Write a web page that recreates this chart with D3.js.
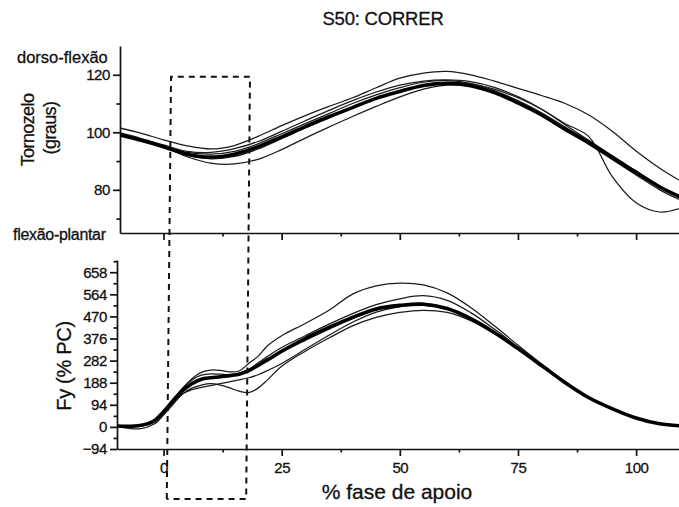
<!DOCTYPE html>
<html>
<head>
<meta charset="utf-8">
<script src="https://cdn.jsdelivr.net/npm/d3@7"></script>
<style>
  html, body { margin: 0; padding: 0; background: #fff; }
  svg { display: block; font-family: "Liberation Sans", Arial, sans-serif; }
  .axis path, .axis line { stroke: #111; stroke-width: 1.7; }
  .axis text { font-size: 15px; fill: #111; stroke: #111; stroke-width: 0.3; letter-spacing: -0.4px; }
  .lbl { fill: #111; stroke: #111; stroke-width: 0.3; }
</style>
</head>
<body>
<svg id="chart" width="679" height="507"></svg>
<script>
// Percent of stance phase at which each trial was sampled
const anklePct = [-10, -5, 0, 5, 10, 15, 20, 25, 30, 35, 40, 45, 50, 55, 60, 65, 70, 75, 80, 85, 90, 95, 100, 105, 110];
const forcePct = [-10, -5, -2, 0, 2, 4, 6, 8, 10, 12, 14, 16, 18, 20, 22, 25, 30, 35, 40, 45, 50, 55, 60, 65, 70, 75, 80, 85, 90, 95, 100, 105, 110];

// Ankle angle (degrees): mean curve and individual trials
const ankleMean = [99.4, 97.3, 95.0, 92.4, 91.4, 92.4, 95.0, 98.4, 102.0, 105.4, 108.6, 111.8, 114.2, 116.3, 117.0, 116.2, 113.8, 110.2, 106.0, 101.0, 96.4, 91.2, 86.0, 81.0, 77.0];
const ankleTrial1 = [101.8, 99.8, 97.4, 95.3, 94.2, 95.4, 98.6, 102.3, 105.8, 109.0, 112.0, 115.5, 118.8, 120.6, 121.2, 120.0, 117.8, 115.3, 112.8, 110.0, 106.0, 100.3, 93.5, 87.5, 82.5];
const ankleTrial2 = [99.6, 97.5, 95.0, 92.0, 90.8, 91.6, 94.2, 97.8, 101.5, 105.0, 108.5, 111.8, 114.5, 116.5, 117.3, 116.8, 115.0, 112.0, 108.0, 103.0, 98.5, 84.5, 75.5, 72.3, 74.0];
const ankleTrial3 = [99.8, 97.6, 95.0, 91.5, 89.3, 89.0, 90.6, 94.0, 98.0, 101.8, 105.5, 109.0, 112.3, 115.0, 116.4, 116.0, 114.0, 110.5, 106.2, 101.0, 95.8, 90.5, 85.2, 80.0, 76.0];
const ankleTrial4 = [99.2, 97.2, 95.2, 93.0, 92.4, 93.4, 96.0, 99.5, 103.0, 106.5, 110.0, 113.0, 115.5, 117.4, 118.0, 117.0, 114.5, 111.0, 106.8, 101.8, 96.8, 91.6, 86.4, 81.2, 77.0];
const ankleTrial5 = [100.2, 98.0, 95.6, 93.4, 93.0, 94.3, 96.8, 100.3, 104.0, 107.6, 111.0, 114.0, 116.4, 117.8, 118.2, 117.6, 115.6, 112.4, 108.0, 102.6, 97.2, 91.8, 86.6, 81.4, 77.4];

// Vertical ground reaction force (% body weight): mean curve and individual trials
const forceMean = [4, 6, 26, 64, 111, 154, 184, 203, 209, 213, 218, 224, 239, 262, 285, 322, 376, 423, 466, 502, 517, 522, 504, 461, 402, 333, 261, 188, 124, 77, 38, 13, 4];
const forceTrial1 = [5, 4, 22, 60, 108, 160, 205, 232, 242, 240, 234, 238, 270, 300, 345, 388, 440, 496, 565, 600, 612, 604, 570, 508, 430, 348, 268, 192, 127, 78, 39, 14, 5];
const forceTrial2 = [2, -8, 12, 50, 96, 140, 165, 178, 184, 178, 166, 152, 146, 165, 200, 258, 322, 378, 430, 466, 487, 496, 487, 452, 396, 330, 258, 185, 122, 75, 36, 12, 3];
const forceTrial3 = [3, 2, 20, 56, 100, 140, 158, 168, 176, 184, 192, 200, 209, 222, 240, 270, 330, 390, 445, 488, 512, 526, 505, 460, 400, 332, 260, 187, 123, 76, 37, 12, 4];
const forceTrial4 = [5, 6, 28, 66, 115, 165, 200, 220, 226, 224, 222, 228, 245, 272, 300, 338, 388, 437, 482, 520, 545, 558, 538, 486, 416, 340, 265, 190, 126, 78, 38, 13, 5];
const forceTrial5 = [6, 7, 27, 66, 112, 152, 182, 202, 210, 214, 217, 222, 236, 260, 284, 318, 368, 416, 460, 498, 512, 518, 500, 458, 400, 334, 262, 189, 125, 77, 38, 13, 4];

// Axis ticks
const xMajorTicks = [0, 25, 50, 75, 100];
const xMinorTicks = [12.5, 37.5, 62.5, 87.5];
const ankleMajorTicks = [80, 100, 120];
const ankleMinorTicks = [70, 90, 110];
const forceMajorTicks = [-94, 0, 94, 188, 282, 376, 470, 564, 658];
const forceMinorTicks = [-47, 47, 141, 235, 329, 423, 517, 611, 705];

const svg = d3.select("#chart");
svg.append("rect").attr("width", 679).attr("height", 507).attr("fill", "#fff");

// Scales (both panels share the same percent-to-pixel mapping)
const xTop = d3.scaleLinear().domain([-9.2, 109.5]).range([120, 681]);
const xBot = d3.scaleLinear().domain([-9.85, 109.5]).range([117, 681]);
const yTop = d3.scaleLinear().domain([65, 130]).range([233, 46]);
const yBot = d3.scaleLinear().domain([-94, 710]).range([449, 260]);

// Clip regions for the two plot areas
const defs = svg.append("defs");
defs.append("clipPath").attr("id", "clipTop").append("rect")
  .attr("x", 120).attr("y", 30).attr("width", 560).attr("height", 210);
defs.append("clipPath").attr("id", "clipBot").append("rect")
  .attr("x", 117).attr("y", 250).attr("width", 563).attr("height", 205);

// Title
svg.append("text").attr("class", "lbl").attr("x", 383).attr("y", 25).attr("text-anchor", "middle")
  .attr("font-size", 18.5).attr("letter-spacing", "-0.2px")
  .text("S50: CORRER");

function drawAxes(x, y, yMajor, yMinor, showXLabels) {
  const y0 = y.range()[0];
  const xLeft = x.range()[0];
  // y axis: labelled major ticks plus short minor ticks
  svg.append("g").attr("class", "axis").attr("transform", `translate(${xLeft},0)`)
    .call(d3.axisLeft(y).tickValues(yMajor).tickSize(7).tickPadding(3).tickSizeOuter(0).tickFormat(d3.format("d")));
  svg.append("g").attr("class", "axis").attr("transform", `translate(${xLeft},0)`)
    .call(d3.axisLeft(y).tickValues(yMinor).tickSize(3.5).tickSizeOuter(0).tickFormat(""))
    .select(".domain").remove();
  // x axis
  svg.append("g").attr("class", "axis").attr("transform", `translate(0,${y0})`)
    .call(d3.axisBottom(x).tickValues(xMajorTicks).tickSize(7).tickPadding(6).tickSizeOuter(0)
      .tickFormat(showXLabels ? d3.format("d") : ""));
  svg.append("g").attr("class", "axis").attr("transform", `translate(0,${y0})`)
    .call(d3.axisBottom(x).tickValues(xMinorTicks).tickSize(3.5).tickSizeOuter(0).tickFormat(""))
    .select(".domain").remove();
}

drawAxes(xTop, yTop, ankleMajorTicks, ankleMinorTicks, false);
drawAxes(xBot, yBot, forceMajorTicks, forceMinorTicks, true);

// Curves: thin individual trials with the thick mean on top
function drawPanel(x, y, pct, trials, mean, clipId) {
  const line = d3.line()
    .x((d, i) => x(pct[i]))
    .y(d => y(d))
    .curve(d3.curveCatmullRom.alpha(0.5));
  const g = svg.append("g").attr("clip-path", `url(#${clipId})`);
  trials.forEach(t => {
    g.append("path").attr("d", line(t)).attr("fill", "none")
      .attr("stroke", "#1a1a1a").attr("stroke-width", 1.25);
  });
  g.append("path").attr("d", line(mean)).attr("fill", "none")
    .attr("stroke", "#000").attr("stroke-width", 3.6);
}
drawPanel(xTop, yTop, anklePct, [ankleTrial1, ankleTrial2, ankleTrial3, ankleTrial4, ankleTrial5], ankleMean, "clipTop");
drawPanel(xBot, yBot, forcePct, [forceTrial1, forceTrial2, forceTrial3, forceTrial4, forceTrial5], forceMean, "clipBot");

// Dashed box marking the early stance window
const boxTop = yTop(119.3), boxBottom = 499;
svg.append("path")
  .attr("d", `M${xTop(0.7)},${boxBottom} L${xTop(1.6)},${boxTop} L${xTop(18.3)},${boxTop} L${xTop(17.5)},${boxBottom} L${xTop(0.7)},${boxBottom}`)
  .attr("fill", "none").attr("stroke", "#111").attr("stroke-width", 2)
  .attr("stroke-dasharray", "6,5");

// Axis titles and annotations
const lbl = (x, y, txt, size, anchor, spacing) => svg.append("text").attr("class", "lbl")
  .attr("x", x).attr("y", y)
  .attr("font-size", size).attr("text-anchor", anchor || "start")
  .attr("letter-spacing", spacing || "0px").text(txt);

lbl(17, 63, "dorso-flexão", 16.5);
lbl(13, 240, "flexão-plantar", 16, "start", "-0.3px");
lbl(397, 499, "% fase de apoio", 21, "middle");

const vlbl = (x, y, txt, size, spacing) => svg.append("text").attr("class", "lbl")
  .attr("transform", `translate(${x},${y}) rotate(-90)`)
  .attr("text-anchor", "middle").attr("font-size", size).attr("letter-spacing", spacing).text(txt);

vlbl(34, 130, "Tornozelo", 18, "-0.6px");
vlbl(56, 128, "(graus)", 18, "-0.6px");
vlbl(71, 366, "Fy (% PC)", 20, "-0.3px");
</script>
</body>
</html>
